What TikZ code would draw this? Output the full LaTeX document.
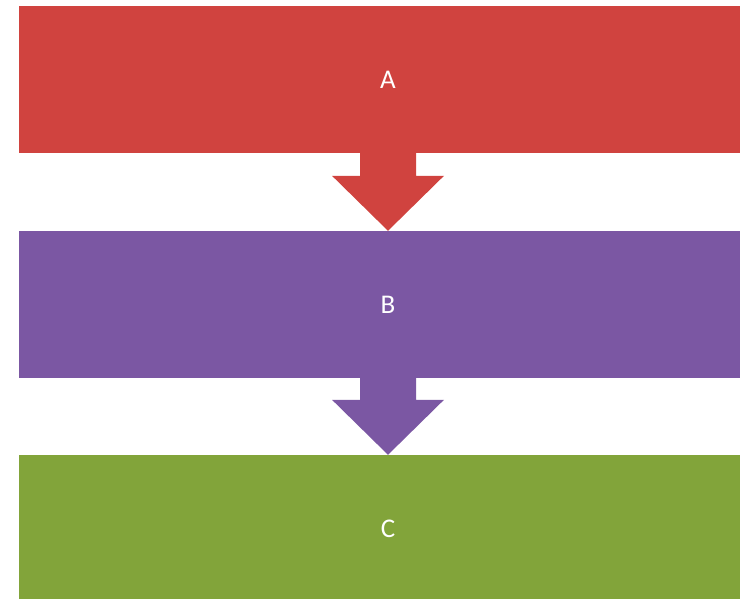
\documentclass[tikz,border=0pt]{standalone}
\usepackage{fontspec}
\setmainfont{Carlito}
\usetikzlibrary{calc}
\definecolor{boxred}{RGB}{208,67,63}
\definecolor{boxpurple}{RGB}{123,87,163}
\definecolor{boxgreen}{RGB}{130,164,58}
\tikzset{
  stage/.style={rectangle, inner sep=0pt, minimum width=739pt, minimum height=147pt,
    text=white, font=\fontsize{27}{32}\selectfont},
}
\newcommand\flowarrow[3]{%
  \fill [#3] ($(#1.south)+(-28,0)$) -- ($(#1.south)+(28,0)$)
    -- ($(#2.north)+(28,-55)$) -- ($(#2.north)+(56,-55)$) -- (#2.north)
    -- ($(#2.north)+(-56,-55)$) -- ($(#2.north)+(-28,-55)$) -- cycle;}

\begin{document}
\begin{tikzpicture}[x=1pt, y=-1pt]
  \useasboundingbox (0, 0) rectangle (740, 598);
  \clip (0, 0) rectangle (740, 598);

  \node [stage, fill=boxred] (a) at (388, 79.5) {A};
  \node [stage, fill=boxpurple] (b) at (388, 304.5) {B};
  \node [stage, fill=boxgreen] (c) at (388, 528.5) {C};

  \flowarrow{a}{b}{boxred}
  \flowarrow{b}{c}{boxpurple}
\end{tikzpicture}
\end{document}
